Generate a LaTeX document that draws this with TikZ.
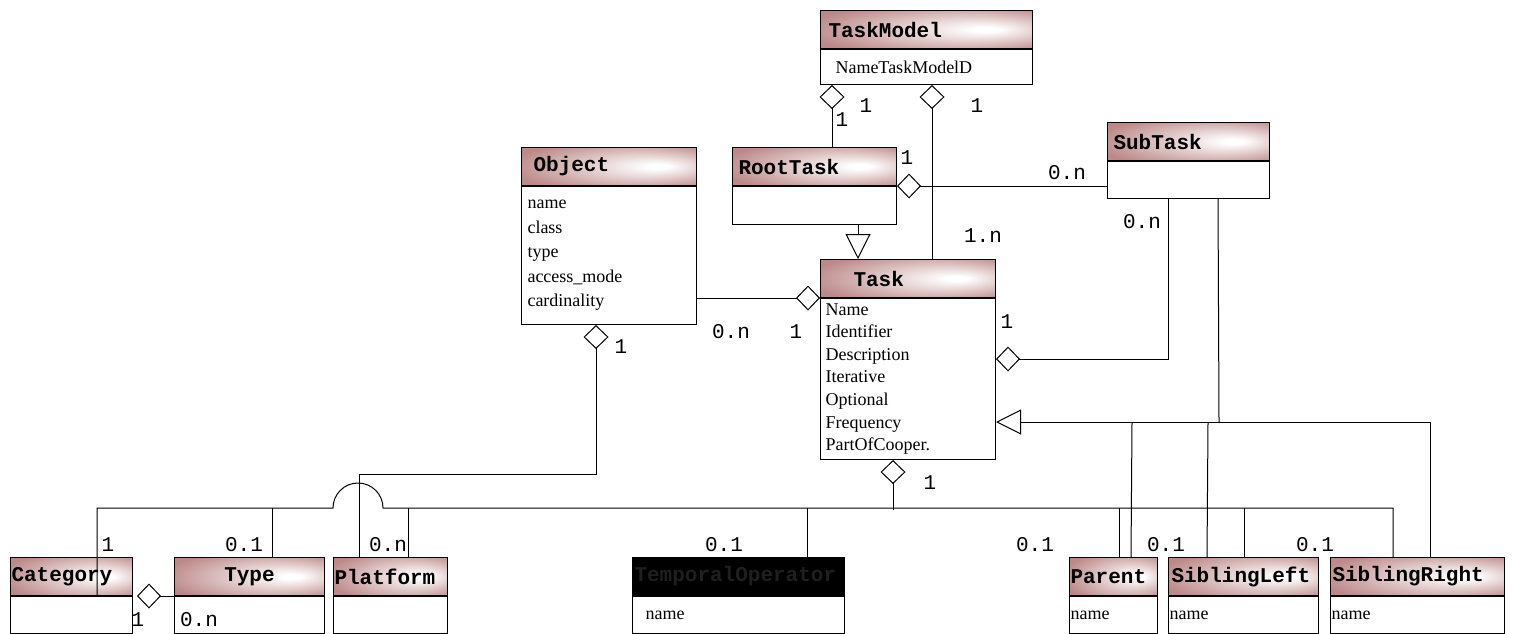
\documentclass[tikz,border=0pt]{standalone}
\usepackage{fontspec}
\setmainfont{Liberation Serif}
\newfontfamily\umlmono{Liberation Mono}
\usepackage{xcolor}
\usepackage{tikz}
\usetikzlibrary{arrows.meta,calc,positioning}
\definecolor{rosy}{RGB}{188,136,136}
\pgfdeclareradialshading{hdrshade}{\pgfpoint{15bp}{0bp}}{color(0bp)=(white); color(3bp)=(white); color(34bp)=(rosy); color(50bp)=(rosy)}
\tikzstyle{hdrbase} = [draw, anchor=north west, minimum height=19pt, inner ysep=0pt,
    align=left, font=\umlmono\bfseries\fontsize{10.5}{12}\selectfont]
\tikzstyle{hdr} = [hdrbase, shade, shading=hdrshade]
\tikzstyle{hdrdark} = [hdrbase, fill=black, text=black!88]
\tikzstyle{body} = [draw, fill=white, anchor=north, inner ysep=0pt, align=left,
    font=\fontsize{9}{11.3}\selectfont]
\tikzstyle{mult} = [inner sep=0pt, font=\umlmono\fontsize{10.5}{12}\selectfont]
\tikzstyle{agg} = [-{Diamond[open,length=12pt,width=12.5pt]}]
\tikzstyle{gen} = [-{Triangle[open,length=12.5pt,width=12.5pt]}]

\begin{document}
\begin{tikzpicture}[x=0.5pt, y=-0.5pt, line width=0.5pt]
        \useasboundingbox (0,0) rectangle (1513,633);
        % Classes
        \node [hdr, inner xsep=4pt, text width=98pt] (tmh) at (820,10) {TaskModel};
        \node [body, inner xsep=7.5pt, text width=91pt, minimum height=17.5pt] (tmb) at (tmh.south) {NameTaskModelD};
        \node [hdr, inner xsep=3pt, text width=76pt] (rth) at (732,147) {RootTask};
        \node [body, inner xsep=0pt, text width=82pt, minimum height=19pt] (rtb) at (rth.south) {};
        \node [hdr, inner xsep=3pt, text width=75pt] (sth) at (1107,122) {SubTask};
        \node [body, inner xsep=0pt, text width=81pt, minimum height=18.5pt] (stb) at (sth.south) {};
        \node [hdr, inner xsep=6pt, text width=75.5pt] (objh) at (521,147) {Object};
        \node [body, inner xsep=3pt, text width=81.5pt, minimum height=69pt,
            font=\fontsize{9}{12.25}\selectfont] (objb) at (objh.south)
            {name\\class\\type\\access\_mode\\cardinality};
        \node [hdr, inner xsep=16.5pt, text width=54.5pt] (taskh) at (820,259) {Task};
        \node [body, inner xsep=2.5pt, text width=82.5pt, minimum height=80.5pt] (taskb) at (taskh.south)
            {Name\\Identifier\\Description\\Iterative\\Optional\\Frequency\\PartOfCooper.};

        \node [hdr, inner xsep=0.5pt, text width=60pt] (cath) at (10,557) {Category};
        \node [body, inner xsep=0pt, text width=61pt, minimum height=18.5pt] (catb) at (cath.south) {};
        \node [hdr, inner xsep=2pt, text width=71pt, align=center] (typeh) at (174,557) {Type};
        \node [body, inner xsep=0pt, text width=75pt, minimum height=18.5pt] (typeb) at (typeh.south) {};
        \node [hdr, inner xsep=0.5pt, text width=56pt] (plath) at (333,557) {Platform};
        \node [body, inner xsep=0pt, text width=57pt, minimum height=18.5pt] (platb) at (plath.south) {};
        \node [hdrdark, inner xsep=1pt, text width=104pt] (temph) at (632,557) {TemporalOperator};
        \node [body, inner xsep=6.5pt, text width=93pt, minimum height=18.5pt] (tempb) at (temph.south) {name};
        \node [hdr, inner xsep=0.5pt, text width=43pt] (parh) at (1069,557) {Parent};
        \node [body, inner xsep=0.5pt, text width=43pt, minimum height=18.5pt] (parb) at (parh.south) {name};
        \node [hdr, inner xsep=1.5pt, text width=72pt] (slh) at (1168,557) {SiblingLeft};
        \node [body, inner xsep=0.5pt, text width=74pt, minimum height=18.5pt] (slb) at (slh.south) {name};
        \node [hdr, inner xsep=1pt, text width=85pt] (srh) at (1330,557) {SiblingRight};
        \node [body, inner xsep=0.5pt, text width=86pt, minimum height=18.5pt] (srb) at (srh.south) {name};

        % Connections
        \draw [agg] ($(rth.north west)+(100,0)$) -- ($(tmb.south west)+(12,0)$);
        \draw [agg] ($(taskh.north west)+(112,0)$) -- ($(tmb.south west)+(112,0)$);
        \draw [gen] ($(rtb.south west)+(126,0)$) -- ($(taskh.north west)+(38,0)$);
        \draw [agg] ($(stb.north west)+(0,25)$) -- (rth.south east);
        \draw [agg] ($(objb.north east)+(0,112)$) -- (taskh.south west);
        \draw [agg] ($(stb.south west)+(61,0)$) |- ($(taskb.north east)+(0,61)$);
        \draw [gen] ($(srh.north west)+(100,0)$) |- ($(taskb.north east)+(0,124)$);
        \draw ($(stb.south west)+(111,0)$) -- ($(taskb.north east)+(223,124)$);
        \draw ($(parh.north west)+(62,0)$) -- ($(taskb.north east)+(136,124)$);
        \draw ($(slh.north west)+(39,0)$) -- ($(taskb.north east)+(212,124)$);
        \draw [agg] ($(plath.north west)+(26,0)$) |- ($(objb.south west)+(75,149)$) -- ($(objb.south west)+(75,0)$);
        \draw [agg] ($(taskb.south west)+(73,50)$) -- ($(taskb.south west)+(73,0)$);
        \draw ($(catb.north west)+(87,0)$) -- ($(cath.north west)+(87,-49)$) -- ++(236,0)
            arc [start angle=180, end angle=0, radius=12.5pt] -- ($(srh.north west)+(63,-49)$)
            -- ($(srh.north west)+(63,0)$);
        \draw ($(typeh.north west)+(98,0)$) -- ++(0,-49);
        \draw ($(plath.north west)+(75,0)$) -- ++(0,-49);
        \draw ($(temph.north west)+(175,0)$) -- ++(0,-49);
        \draw ($(parh.north west)+(50,0)$) -- ++(0,-49);
        \draw ($(slh.north west)+(76,0)$) -- ++(0,-49);
        \draw [agg, shorten >=2pt] (typeh.south west) -- (cath.south east);

        % Multiplicities
        \node [mult] (tmrt) at (866,106) {1};
        \node [mult] (rttm) at (842,120) {1};
        \node [mult] (tmtask) at (977,106) {1};
        \node [mult] (tasktm) at (983,236) {1.n};
        \node [mult] (rtst) at (907,158) {1};
        \node [mult] (strt) at (1067,173) {0.n};
        \node [mult] (sttask) at (1142,222) {0.n};
        \node [mult] (taskst) at (1007,322) {1};
        \node [mult] (objtask) at (731,332) {0.n};
        \node [mult] (taskobj) at (796,332) {1};
        \node [mult] (objplat) at (621,347) {1};
        \node [mult] (taskbus) at (930,483) {1};
        \node [mult] (catbus) at (108,545) {1};
        \node [mult] (typebus) at (244,545) {0.1};
        \node [mult] (platbus) at (388,545) {0.n};
        \node [mult] (tempbus) at (724,545) {0.1};
        \node [mult] (parbus) at (1035,545) {0.1};
        \node [mult] (slbus) at (1166,545) {0.1};
        \node [mult] (srbus) at (1315,545) {0.1};
        \node [mult] (cattype) at (138,620) {1};
        \node [mult] (typecat) at (199,620) {0.n};
    \end{tikzpicture}
\end{document}
